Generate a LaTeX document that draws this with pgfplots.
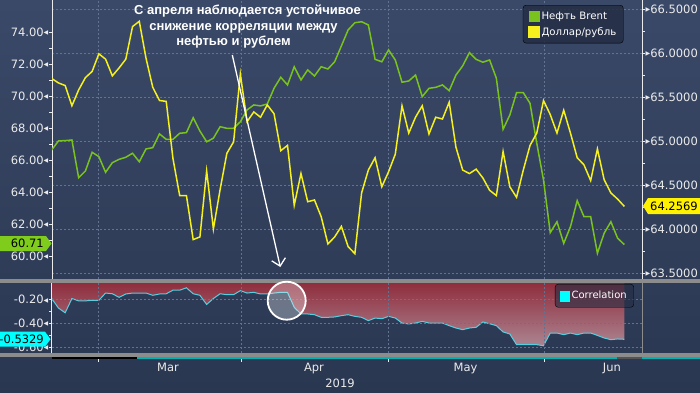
\documentclass[border=0pt]{standalone}
\usepackage{pgfplots}
\pgfplotsset{compat=1.18}
\usepackage{pgfplotstable}
\usetikzlibrary{arrows.meta}
\usepackage{fontspec}
\setmainfont{DejaVu Sans}
\newfontfamily\lib{Liberation Sans}

\definecolor{bgtop}{RGB}{58,73,104}
\definecolor{bgbot}{RGB}{42,55,81}
\definecolor{gridc}{RGB}{98,115,145}
\definecolor{brent}{RGB}{122,194,30}
\definecolor{usd}{RGB}{245,240,30}
\definecolor{corrc}{RGB}{86,207,224}
\definecolor{tagg}{RGB}{127,204,28}
\definecolor{tagy}{RGB}{255,242,0}
\definecolor{tagc}{RGB}{0,255,255}
\definecolor{redtop}{RGB}{140,36,52}
\definecolor{redbot}{RGB}{172,132,145}
\definecolor{sepc}{RGB}{140,140,140}
\definecolor{labc}{RGB}{235,235,235}
\definecolor{legbg}{RGB}{36,46,68}

\pgfplotstableread{
i brent usd corr
0 66.63 65.71 -0.190
1 67.19 65.66 -0.270
2 67.21 65.63 -0.310
3 67.25 65.40 -0.190
4 64.89 65.58 -0.210
5 65.31 65.72 -0.210
6 66.48 65.79 -0.205
7 66.21 65.99 -0.205
8 65.23 65.93 -0.144
9 65.83 65.74 -0.150
10 66.04 65.83 -0.180
11 66.17 65.93 -0.152
12 66.42 66.30 -0.144
13 65.89 66.36 -0.144
14 66.69 65.94 -0.144
15 66.77 65.61 -0.163
16 67.63 65.46 -0.152
17 67.29 65.45 -0.150
18 67.29 64.80 -0.120
19 67.67 64.38 -0.120
20 67.71 64.38 -0.100
21 68.64 63.88 -0.150
22 67.81 63.91 -0.163
23 67.14 64.66 -0.240
24 67.36 64.00 -0.190
25 68.08 64.45 -0.150
26 67.98 64.86 -0.158
27 67.98 64.99 -0.158
28 68.39 65.76 -0.124
29 69.13 65.22 -0.144
30 69.44 65.33 -0.138
31 69.38 65.27 -0.152
32 69.50 65.41 -0.152
33 70.48 65.31 -0.144
34 71.17 64.89 -0.138
35 70.69 64.95 -0.138
36 71.83 64.27 -0.264
37 71.00 64.63 -0.320
38 71.63 64.31 -0.320
39 71.25 64.33 -0.326
40 71.83 64.14 -0.348
41 71.69 63.83 -0.348
42 72.14 63.91 -0.345
43 73.13 64.03 -0.334
44 74.13 63.80 -0.326
45 74.58 63.72 -0.340
46 74.64 64.41 -0.348
47 74.44 64.67 -0.376
48 72.29 64.81 -0.354
49 72.14 64.48 -0.360
50 72.88 64.65 -0.340
51 72.25 64.85 -0.354
52 70.86 65.40 -0.396
53 70.94 65.09 -0.404
54 71.31 65.27 -0.396
55 69.96 65.40 -0.382
56 70.48 65.08 -0.396
57 70.54 65.27 -0.396
58 70.69 65.25 -0.396
59 70.33 65.44 -0.418
60 71.31 64.93 -0.438
61 71.88 64.67 -0.452
62 72.71 64.63 -0.438
63 72.29 64.68 -0.432
64 72.11 64.58 -0.387
65 72.25 64.44 -0.402
66 71.11 64.38 -0.418
67 67.92 64.88 -0.471
68 68.81 64.48 -0.488
69 70.21 64.36 -0.578
70 70.21 64.67 -0.578
71 69.54 64.95 -0.578
72 67.04 65.09 -0.578
73 64.75 65.46 -0.587
74 61.46 65.30 -0.480
75 62.14 65.09 -0.480
76 60.79 65.35 -0.494
77 61.83 65.09 -0.480
78 63.46 64.81 -0.494
79 62.46 64.73 -0.480
80 62.46 64.55 -0.480
81 60.17 64.91 -0.500
82 61.42 64.56 -0.522
83 62.14 64.41 -0.536
84 61.11 64.34 -0.530
85 60.71 64.2569 -0.5329
}\data

\begin{document}
\begin{tikzpicture}
\shade[top color=bgtop, bottom color=bgbot] (0pt,0pt) rectangle (700pt,392pt);
\pgfplotsset{
  base/.style={scale only axis, width=590pt, xmin=0.045, xmax=87.62, anchor=south west,
    tick align=outside, major tick length=3pt, minor tick length=3pt,
    tick style={labc, line width=0.8pt},
    axis line style={-},
    /pgf/number format/assume math mode=true,
    tick label style={font=\fontsize{11.5}{13}\selectfont, text=labc},
    yticklabel style={inner xsep=0.5pt},
    grid style={gridc, dash pattern=on 2pt off 2pt, line width=0.6pt}},
}
% grid and right axis
\begin{axis}[base, at={(52pt,113pt)}, height=279pt, ymin=63.432, ymax=66.602,
  axis y line*=right, axis x line*=bottom, x axis line style={draw=none},
  y axis line style={labc, line width=1pt},
  xtick={6.87,28.09,49.92,73.07}, xticklabels={}, xtick style={draw=none},
  ytick={63.5,64,64.5,65,65.5,66,66.5}, minor y tick num=1, grid=major,
  yticklabel={\raisebox{1.8pt}{\fontsize{6}{6}\selectfont▶}\pgfmathprintnumber[fixed,fixed zerofill,precision=4]{\tick}}]
\addplot[draw=none, forget plot] table[x=i,y=usd]{\data};
\end{axis}
% Brent, left axis
\begin{axis}[base, at={(52pt,113pt)}, height=279pt, ymin=58.56, ymax=76,
  axis y line*=left, axis x line=none, y axis line style={labc, line width=1pt},
  ytick={60,62,64,66,68,70,72,74}, minor y tick num=1,
  yticklabel={\pgfmathprintnumber[fixed,fixed zerofill,precision=2]{\tick}\raisebox{1.8pt}{\fontsize{6}{6}\selectfont◀}}]
\addplot[brent, line width=1.5pt] table[x=i,y=brent]{\data};
\end{axis}
% USD/RUB
\begin{axis}[base, at={(52pt,113pt)}, height=279pt, ymin=63.432, ymax=66.602, hide axis,
  legend style={at={(0.798,0.982)}, anchor=north west, fill=legbg, fill opacity=0.85, text opacity=1,
    draw=black, rounded corners=3pt, font=\fontsize{10.2}{11}\selectfont, text=white,
    inner xsep=5pt, inner ysep=4.5pt, row sep=2.5pt},
  legend cell align=left,
  legend image code/.code={\fill[#1, sharp corners, fill opacity=1] (0pt,-5pt) rectangle (10pt,5pt);}]
\addlegendimage{brent}\addlegendentry{Нефть Brent}
\addplot[usd, line width=1.5pt] table[x=i,y=usd]{\data};
\addlegendentry{Доллар/рубль}
\end{axis}
% Correlation panel
\begin{axis}[base, at={(52pt,39pt)}, height=71pt, ymin=-0.648, ymax=-0.0513,
  axis on top,
  axis y line*=left, axis x line*=bottom, x axis line style={draw=none},
  y axis line style={labc, line width=1pt},
  ytick={-0.6,-0.4,-0.2}, minor y tick num=1, ymajorgrids,
  yticklabel={\pgfmathprintnumber[fixed,fixed zerofill,precision=2]{\tick}\raisebox{1.8pt}{\fontsize{6}{6}\selectfont◀}},
  xtick={17.27,38.93,61.42,83.16}, xticklabels={Mar,Apr,May,Jun}, xtick style={draw=none},
  xticklabel style={yshift=-3.5pt},
  extra x ticks={6.87,28.09,49.92,73.07}, extra x tick labels={},
  extra x tick style={major tick length=9pt, xtick style={draw=labc, line width=0.8pt}, grid=major},
  legend style={at={(0.8525,0.972)}, anchor=north west, fill=legbg, fill opacity=0.6, text opacity=1,
    draw=black, rounded corners=3pt, font=\fontsize{10}{11}\selectfont, text=white,
    inner xsep=5pt, inner ysep=5pt},
  legend image code/.code={\fill[#1, sharp corners, fill opacity=1] (0pt,-5pt) rectangle (9pt,4.5pt);}]
\addplot[draw=none, top color=redtop, bottom color=redbot, forget plot] table[x=i,y=corr]{\data} -- (axis cs:85,0) -- (axis cs:0,0) -- cycle;
\addplot[corrc, line width=1pt, forget plot] table[x=i,y=corr]{\data};
\addlegendimage{tagc}\addlegendentry{Correlation}
\end{axis}
% separators
\fill[sepc] (0pt,109.5pt) rectangle (700pt,113pt);
\fill[sepc] (0pt,35.3pt) rectangle (700pt,39pt);
\fill[black] (52pt,33.5pt) rectangle (137pt,35.3pt);
\fill[tagc!70!black] (137pt,33.5pt) rectangle (617pt,35.3pt);
\fill[sepc!60!black] (617pt,33.5pt) rectangle (642pt,35.3pt);
\fill[tagc!70!black] (642pt,33.5pt) rectangle (700pt,35.3pt);
\draw[sepc, line width=1pt] (642pt,39pt) -- (642pt,110pt);
% value tags
\fill[tagg] (0pt,141pt) -- (46pt,141pt) -- (51.5pt,148.5pt) -- (46pt,156pt) -- (0pt,156pt) -- cycle;
\node[anchor=east, inner sep=0pt, font=\fontsize{11.5}{13}\selectfont, text=black] at (44pt,148.5pt) {60.71};
\fill[tagy] (643pt,186pt) -- (648pt,194pt) -- (700pt,194pt) -- (700pt,178pt) -- (648pt,178pt) -- cycle;
\node[anchor=west, inner sep=0pt, font=\fontsize{11.5}{13}\selectfont, text=black] at (650pt,186pt) {64.2569};
\fill[tagc] (0pt,45.3pt) -- (45pt,45.3pt) -- (50.5pt,52.8pt) -- (45pt,60.3pt) -- (0pt,60.3pt) -- cycle;
\node[anchor=east, inner sep=0pt, font=\fontsize{11.5}{13}\selectfont, text=black] at (44pt,52.8pt) {-0.5329};
% year
\node[font=\fontsize{11.5}{13}\selectfont, text=labc] at (340pt,9pt) {2019};
% annotation
\node[anchor=base, inner sep=0pt, text=white, font=\lib\bfseries\fontsize{13}{15}\selectfont] at (247.5pt,377.5pt) {С апреля наблюдается устойчивое};
\node[anchor=base, inner sep=0pt, text=white, font=\lib\bfseries\fontsize{13}{15}\selectfont] at (243.5pt,362pt) {снижение корреляции между};
\node[anchor=base, inner sep=0pt, text=white, font=\lib\bfseries\fontsize{13}{15}\selectfont] at (233.5pt,347pt) {нефтью и рублем};
\draw[white, line width=1.3pt, -{Straight Barb[length=7pt,width=14pt,line width=1.3pt]}] (232.3pt,337pt) -- (280.3pt,125pt);
\draw[white, line width=1.8pt, fill=white, fill opacity=0.3] (286.7pt,91.3pt) circle[radius=19pt];
\pgfresetboundingbox
\useasboundingbox (0pt,0pt) rectangle (700pt,392pt);
\end{tikzpicture}
\end{document}
